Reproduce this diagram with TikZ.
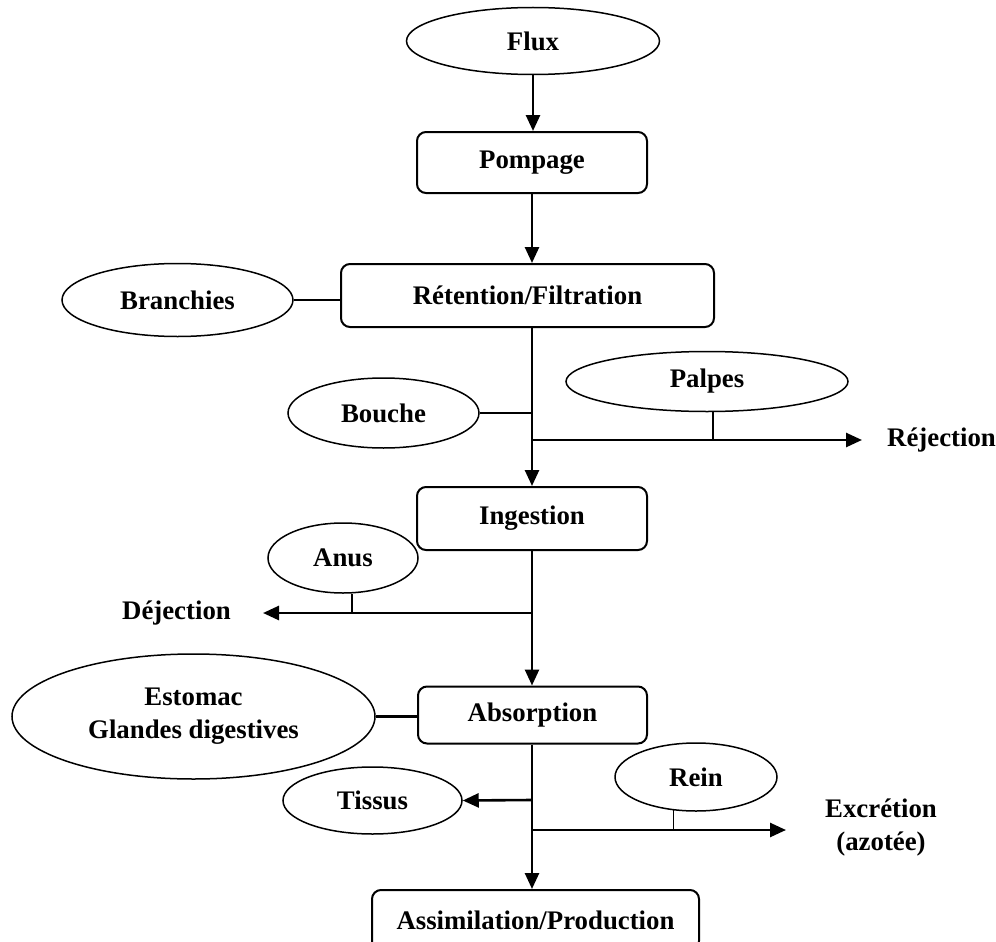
\documentclass[tikz,border=0pt]{standalone}
\usepackage{fontspec}
\setmainfont{Liberation Serif}
\usetikzlibrary{arrows.meta,shapes.geometric}

\newcommand\chainfont{\bfseries\fontsize{26.8}{33}\selectfont}

\begin{document}
\begin{tikzpicture}[x=1pt,y=-1pt,
  stage/.style={draw, line width=2pt, rounded corners=9pt, inner sep=0pt,
    font=\chainfont},
  organ/.style={draw, ellipse, line width=1.5pt, inner sep=0pt, align=center,
    font=\chainfont},
  outlbl/.style={inner sep=0pt, align=center, font=\chainfont},
  flow/.style={line width=2.6pt, -{Triangle[length=16pt,width=14pt]}},
  link/.style={line width=2.2pt},
  stub/.style={line width=1.5pt}]

\fill[white] (0,0) rectangle (996,942);
\useasboundingbox (0,0) rectangle (996,942);

% main stages
\node[organ, minimum width=253pt, minimum height=67pt] (flux) at (533,41) {Flux};
\node[stage, minimum width=230pt, minimum height=61pt] (pomp) at (532,162.5) {Pompage};
\node[stage, minimum width=373pt, minimum height=63pt] (ret) at (527.5,295.5) {Rétention/Filtration};
\node[stage, minimum width=230pt, minimum height=63pt] (ing) at (532,518.5) {Ingestion};
\node[stage, minimum width=229pt, minimum height=57pt] (abs) at (532.5,715) {Absorption};
\node[stage, minimum width=327pt, minimum height=60pt] (assim) at (535.5,920) {Assimilation/Production};

% organs
\node[organ, minimum width=231pt, minimum height=73pt] (bran) at (177.5,300) {Branchies};
\node[organ, minimum width=191pt, minimum height=70pt] (bouche) at (383.5,413) {Bouche};
\node[organ, minimum width=282pt, minimum height=60pt] (palpes) at (707,381.5) {Palpes};
\node[organ, minimum width=150pt, minimum height=70pt] (anus) at (343,558) {Anus};
\node[organ, minimum width=363pt, minimum height=125pt] (estomac) at (193.5,716.5) {Estomac\\Glandes digestives};
\node[organ, minimum width=179pt, minimum height=67pt] (tissus) at (372.5,800.5) {Tissus};
\node[organ, minimum width=162pt, minimum height=68pt] (rein) at (696,777) {Rein};

% outputs
\node[outlbl, anchor=west] (rej) at (887,440) {Réjection};
\node[outlbl, anchor=east] (dej) at (231,613) {Déjection};
\node[outlbl, anchor=west] (exc) at (825,828) {Excrétion\\(azotée)};

% junctions on the main axis
\coordinate (rj) at (532,440);
\coordinate (dj) at (532,613);
\coordinate (tj) at (532,800);
\coordinate (xj) at (532,830);

% main axis
\draw[flow] (flux.south) -- (flux.south |- pomp.north);
\draw[flow] (pomp.south) -- (pomp.south |- ret.north);
\draw[flow] (pomp.south |- ret.south) -- (ing.north);
\draw[flow] (ing.south) -- (ing.south |- abs.north);
\draw[flow] (ing.south |- abs.south) -- (ing.south |- assim.north);

% organs attached to stages
\draw[link] (bran.east) -- (bran.east -| ret.west);
\draw[link] (bouche.east) -- (bouche.east -| ing.north);
\draw[link] (estomac.east) -- (estomac.east -| abs.west);

% side outputs
\draw[flow, shorten >=25pt] (rj) -- (rj -| rej.west);
\draw[stub] (palpes.281.5) -- (palpes.281.5 |- rj);
\draw[flow, shorten >=32pt] (dj) -- (dj -| dej.east);
\draw[stub] (anus.284.4) -- (anus.284.4 |- dj);
\draw[flow] (tj) -- (tissus.east);
\draw[flow, shorten >=39pt] (xj) -- (xj -| exc.west);
\draw[stub] (rein.236) -- (rein.236 |- xj);
\end{tikzpicture}
\end{document}
